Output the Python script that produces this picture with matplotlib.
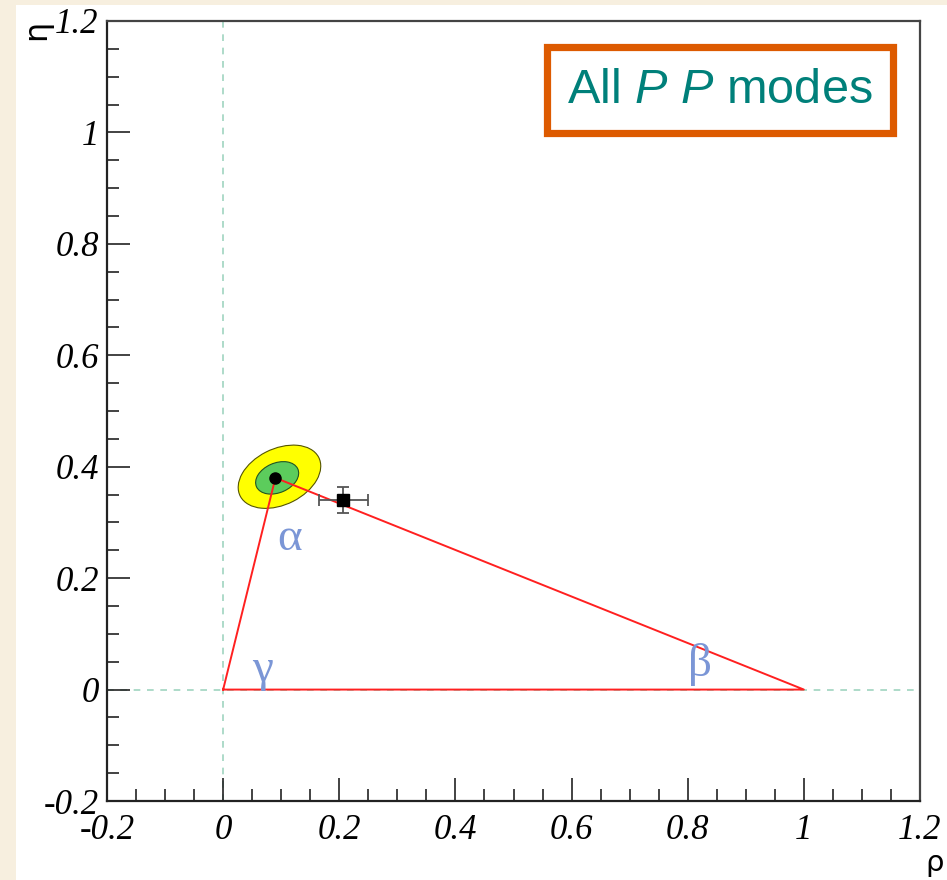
import matplotlib
matplotlib.use("Agg")
import matplotlib.pyplot as plt
from matplotlib.patches import Ellipse, Rectangle
from matplotlib.ticker import MultipleLocator, FuncFormatter

# ---- data ----
apex = (0.09, 0.38)             # fit central value (rho, eta)
tri_base = [(0.0, 0.0), (1.0, 0.0)]
ell_outer = dict(xy=(0.097, 0.382), width=0.152, height=0.100, angle=28)
ell_inner = dict(xy=(0.093, 0.380), width=0.078, height=0.053, angle=25)
ref_point = (0.207, 0.340)
ref_xerr = 0.042
ref_yerr = 0.023
xlim = (-0.2, 1.2)
ylim = (-0.2, 1.2)
angle_labels = [("α", 0.114, 0.27), ("γ", 0.067, 0.035), ("β", 0.822, 0.045)]
title_text = "All $\\mathit{P}$ $\\mathit{P}$ modes"

plt.rcParams["font.family"] = ["Liberation Serif", "DejaVu Serif"]
plt.rcParams["font.style"] = "italic"
plt.rcParams["mathtext.fontset"] = "custom"
plt.rcParams["mathtext.it"] = "Liberation Sans:italic"
plt.rcParams["mathtext.rm"] = "Liberation Sans"

W, H = 947, 880
fig = plt.figure(figsize=(W / 100, H / 100), dpi=100)
fig.patch.set_facecolor("#f7efdf")
fig.patches.append(Rectangle((16 / W, 0), 1 - 16 / W, 1 - 5 / H, transform=fig.transFigure,
                             facecolor="white", edgecolor="none", zorder=-10))

ax = fig.add_axes([107 / W, 1 - 801 / H, (920 - 107) / W, (801 - 21) / H])
ax.set_zorder(1)
ax.set_xlim(*xlim)
ax.set_ylim(*ylim)
ax.set_facecolor("white")

# dashed axes lines
ax.axvline(0, color="#9fd4c0", ls=(0, (4, 4)), lw=1.2, zorder=1)
ax.axhline(0, color="#9fd4c0", ls=(0, (4, 4)), lw=1.2, zorder=1)

# contours
ax.add_patch(Ellipse(**ell_outer, facecolor="#ffff00", edgecolor="#555500", lw=0.8, zorder=2))
ax.add_patch(Ellipse(**ell_inner, facecolor="#5ccc5c", edgecolor="#225522", lw=0.8, zorder=3))

# triangle
ax.plot([tri_base[0][0], apex[0], tri_base[1][0], tri_base[0][0]],
        [tri_base[0][1], apex[1], tri_base[1][1], tri_base[0][1]],
        color="#ff2020", lw=1.4, zorder=4)
ax.plot([apex[0]], [apex[1]], "o", color="black", ms=8, zorder=5)

# reference point with errors
ax.errorbar([ref_point[0]], [ref_point[1]], xerr=[ref_xerr], yerr=[ref_yerr],
            fmt="s", color="black", ms=9, ecolor="#555555", elinewidth=1.3,
            capsize=4, capthick=1.3, zorder=6)

for lab, x, y in angle_labels:
    ax.text(x, y, lab, color="#7b96d6", fontsize=34, family="Liberation Serif",
            style="normal", ha="center", va="center", zorder=7)

# text box
ax.text(0.754, 0.9115, title_text, transform=ax.transAxes, ha="center", va="center",
        fontsize=35, color="#00807a", family="Liberation Sans", style="normal",
        bbox=dict(boxstyle="square,pad=0.42", facecolor="white", edgecolor="#dd5a00", lw=5.2))

# ticks
ax.xaxis.set_major_locator(MultipleLocator(0.2))
ax.xaxis.set_minor_locator(MultipleLocator(0.05))
ax.yaxis.set_major_locator(MultipleLocator(0.2))
ax.yaxis.set_minor_locator(MultipleLocator(0.05))

def fmt(v, pos):
    v = round(v, 2)
    if abs(v) < 1e-9:
        return "0"
    if abs(v - 1) < 1e-9:
        return "1"
    return f"{v:g}"

ax.xaxis.set_major_formatter(FuncFormatter(fmt))
ax.yaxis.set_major_formatter(FuncFormatter(fmt))
ax.tick_params(which="both", direction="in", top=False, right=False, color="#222222", width=1.2)
ax.tick_params(which="major", length=16.5, labelsize=25)
ax.tick_params(which="minor", length=8.5)
ax.tick_params(axis="x", pad=9)
ax.tick_params(axis="y", pad=6)
for sp in ax.spines.values():
    sp.set_linewidth(1.6)
    sp.set_color("#222222")
ax.spines["top"].set_color("#444444")
ax.spines["right"].set_color("#444444")

fig.text(37 / W, 1 - 30 / H, "η", rotation=90, fontsize=23, family="DejaVu Sans",
         style="normal", ha="center", va="center")
fig.text(935 / W, 1 - 863 / H, "ρ", fontsize=21, family="DejaVu Sans",
         style="normal", ha="center", va="center")

fig.savefig("out.png", dpi=100, facecolor=fig.get_facecolor())
